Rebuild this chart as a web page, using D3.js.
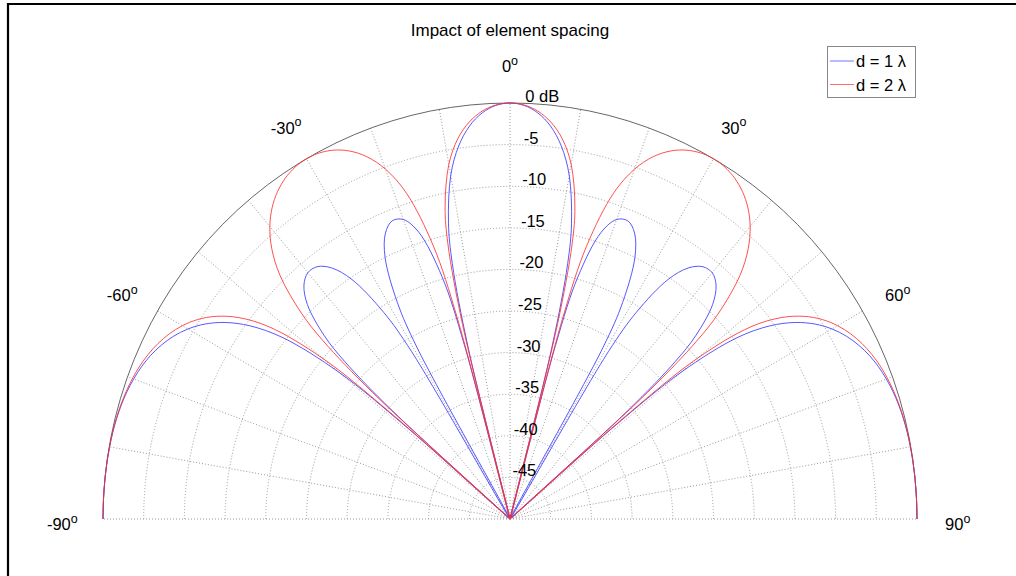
<!DOCTYPE html>
<html><head><meta charset="utf-8">
<script src="https://cdn.jsdelivr.net/npm/d3@7"></script>
<style>
body{margin:0;background:#fff}
svg{display:block}
text{font-family:"Liberation Sans",Arial,Helvetica,sans-serif;fill:#000}
</style>
</head><body>
<svg id="chart" width="1016" height="576"></svg>
<script>
const titleText = "Impact of element spacing";
const seriesNames = ["d = 1 \u03bb", "d = 2 \u03bb"];
const seriesColors = ["#3a3aff", "#ff3030"];

const angles = [-90,-88,-86,-84,-82,-80,-78,-76,-74,-72,-70,-68,-66,-64,-62,-60,-58,-56,-54,-52,-50,-49,-48.59,-48,-47,-46,-44,-42,-40,-38,-36,-34,-32,-31,-30,-29,-28,-26,-24,-22,-20,-18,-16,-15,-14.48,-14,-13,-12,-10,-8,-6,-4,-2,
0,
2,4,6,8,10,12,13,14,14.48,15,16,18,20,22,24,26,28,29,30,31,32,34,36,38,40,42,44,46,47,48,48.59,49,50,52,54,56,58,60,62,64,66,68,70,72,74,76,78,80,82,84,86,88,90];

const blueDb = [0,0,0,-0.01,-0.02,-0.05,-0.10,-0.19,-0.32,-0.52,-0.80,-1.17,-1.67,-2.34,-3.20,-4.32,-5.79,-7.76,-10.49,-14.61,-22.55,-33.4,-50,-30.5,-22.19,-18.29,-14.17,-12.17,-11.36,-11.52,-12.69,-15.28,-20.70,-26.54,-50,-26.47,-20.53,-14.99,-12.38,-11.35,-11.69,-13.78,-19.7,-28.4,-50,-28.7,-18.5,-13.65,-8.08,-4.72,-2.50,-1.07,-0.26,
0,
-0.26,-1.07,-2.50,-4.72,-8.08,-13.65,-18.5,-28.7,-50,-28.4,-19.7,-13.78,-11.69,-11.35,-12.38,-14.99,-20.53,-26.47,-50,-26.54,-20.70,-15.28,-12.69,-11.52,-11.36,-12.17,-14.17,-18.29,-22.19,-30.5,-50,-33.4,-22.55,-14.61,-10.49,-7.76,-5.79,-4.32,-3.20,-2.34,-1.67,-1.17,-0.80,-0.52,-0.32,-0.19,-0.10,-0.05,-0.02,-0.01,0,0,0];

const redDb = [0,0,0,-0.01,-0.02,-0.04,-0.08,-0.15,-0.26,-0.42,-0.64,-0.94,-1.35,-1.89,-2.60,-3.53,-4.76,-6.44,-8.82,-12.52,-19.96,-30.5,-50,-27.3,-18.64,-14.36,-9.35,-6.26,-4.10,-2.53,-1.39,-0.61,-0.15,-0.04,0,-0.04,-0.16,-0.67,-1.59,-3.03,-5.25,-8.82,-15.9,-25.1,-50,-25.9,-16.1,-11.65,-6.72,-3.86,-2.03,-0.86,-0.21,
0,
-0.21,-0.86,-2.03,-3.86,-6.72,-11.65,-16.1,-25.9,-50,-25.1,-15.9,-8.82,-5.25,-3.03,-1.59,-0.67,-0.16,-0.04,0,-0.04,-0.15,-0.61,-1.39,-2.53,-4.10,-6.26,-9.35,-14.36,-18.64,-27.3,-50,-30.5,-19.96,-12.52,-8.82,-6.44,-4.76,-3.53,-2.60,-1.89,-1.35,-0.94,-0.64,-0.42,-0.26,-0.15,-0.08,-0.04,-0.02,-0.01,0,0,0];

const dbTicks = [-45,-40,-35,-30,-25,-20,-15,-10,-5,0];
const dbTickLabels = ["-45","-40","-35","-30","-25","-20","-15","-10","-5","0 dB"];
const angleTicks = [-90,-60,-30,0,30,60,90];
const spokeTicks = [-90,-80,-70,-60,-50,-40,-30,-20,-10,0,10,20,30,40,50,60,70,80,90];

const svg = d3.select("#chart");
const cx = 510, cy = 519, rx = 407, ry = 416;
const rScale = d3.scaleLinear().domain([-50, 0]).range([0, 1]).clamp(true);
const aScale = d3.scaleLinear().domain([-180, 180]).range([-Math.PI, Math.PI]);
function pt(a, db, k) {
  const t = aScale(a), p = rScale(db) * (k || 1);
  return [cx + rx * p * Math.sin(t), cy - ry * p * Math.cos(t)];
}

// frame lines
svg.append("line").attr("x1", 7).attr("x2", 1016).attr("y1", 4).attr("y2", 4).attr("stroke", "#000").attr("stroke-width", 2.2);
svg.append("line").attr("x1", 8).attr("x2", 8).attr("y1", 3).attr("y2", 576).attr("stroke", "#000").attr("stroke-width", 2.2);

const grid = svg.append("g");
// dotted rings
dbTicks.filter(d => d < 0).forEach(d => {
  const p = rScale(d);
  const [x0, y0] = pt(-90, d), [x1, y1] = pt(90, d);
  grid.append("path")
    .attr("d", `M${x0},${y0} A${rx * p},${ry * p} 0 0 1 ${x1},${y1}`)
    .attr("fill", "none").attr("stroke", "#9a9a9a").attr("stroke-width", 1)
    .attr("stroke-dasharray", "1,2");
});
// spokes
spokeTicks.forEach(a => {
  const [x, y] = pt(a, 0);
  grid.append("line").attr("x1", cx).attr("y1", cy).attr("x2", x).attr("y2", y)
    .attr("stroke", "#9a9a9a").attr("stroke-width", 1).attr("stroke-dasharray", "1,2");
});
// outer arc
{
  const [x0, y0] = pt(-90, 0), [x1, y1] = pt(90, 0);
  grid.append("path").attr("d", `M${x0},${y0} A${rx},${ry} 0 0 1 ${x1},${y1}`)
    .attr("fill", "none").attr("stroke", "#666").attr("stroke-width", 1);
}

// curves
const line = d3.line().curve(d3.curveCatmullRom.alpha(0.5));
[blueDb, redDb].forEach((vals, i) => {
  const pts = angles.map((a, j) => pt(a, vals[j]));
  svg.append("path").attr("d", line(pts)).attr("fill", "none")
    .attr("stroke", seriesColors[i]).attr("stroke-width", 1).attr("stroke-opacity", 0.85);
});

// dB labels
dbTicks.forEach((d, i) => {
  const p = rScale(d);
  svg.append("text")
    .attr("x", cx + 1 + rx * p * Math.sin(aScale(2)))
    .attr("y", cy - ry * p - 1)
    .attr("font-size", 16.5)
    .text(dbTickLabels[i]);
});

// angle labels
angleTicks.forEach(a => {
  const [x, y] = pt(a, 0, 1.1);
  const t = svg.append("text").attr("x", x).attr("y", y + 11)
    .attr("text-anchor", "middle").attr("font-size", 16.5);
  t.append("tspan").text(String(a));
  t.append("tspan").attr("font-size", 12.5).attr("dy", -7.5).text("o");
});

// title
svg.append("text").attr("x", 510).attr("y", 36).attr("text-anchor", "middle")
  .attr("font-size", 17).text(titleText);

// legend
const lg = svg.append("g");
lg.append("rect").attr("x", 827.5).attr("y", 46.5).attr("width", 88).attr("height", 51)
  .attr("fill", "#fff").attr("stroke", "#888").attr("stroke-width", 1);
seriesNames.forEach((n, i) => {
  const yy = 61 + i * 23.5;
  lg.append("line").attr("x1", 830).attr("x2", 854).attr("y1", yy).attr("y2", yy)
    .attr("stroke", seriesColors[i]).attr("stroke-width", 1).attr("stroke-opacity", 0.7);
  lg.append("text").attr("x", 856).attr("y", yy + 6).attr("font-size", 16.5).text(n);
});
</script>
</body></html>
